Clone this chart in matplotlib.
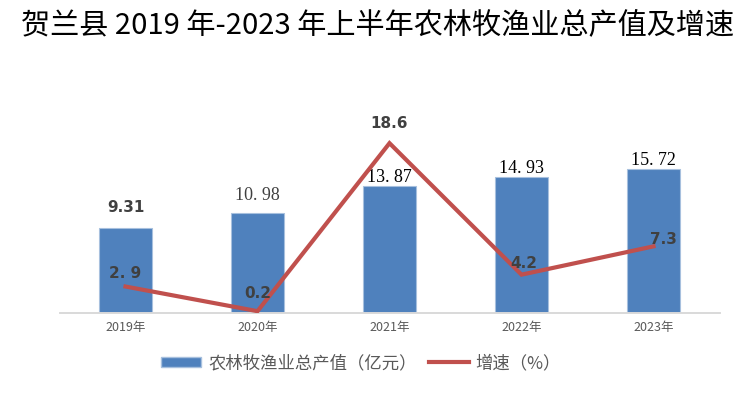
import matplotlib
matplotlib.use('Agg')
import matplotlib.pyplot as plt
from matplotlib.patches import Patch
from matplotlib.lines import Line2D

plt.rcParams['font.family'] = ['Noto Sans CJK SC', 'DejaVu Sans']

# 数据
years = ['2019年', '2020年', '2021年', '2022年', '2023年']
output = [9.31, 10.98, 13.87, 14.93, 15.72]
growth = [2.9, 0.2, 18.6, 4.2, 7.3]
output_labels = ['9.31', '10. 98', '13. 87', '14. 93', '15. 72']
growth_labels = ['2. 9', '0.2', '18.6', '4.2', '7.3']

bar_color = '#4F81BD'
line_color = '#C0504D'

fig = plt.figure(figsize=(7.55, 3.93), dpi=100)
ax = fig.add_axes([59.5 / 755, 80 / 393, 660 / 755, 182.6 / 393])
ax2 = ax.twinx()

x = list(range(len(years)))
ax.bar(x, output, width=0.4, color=bar_color, edgecolor='#A7C0DE', linewidth=0.8, zorder=2)
ax2.plot(x, growth, color=line_color, linewidth=3, zorder=3, solid_joinstyle='miter')

ax.set_xlim(-0.5, len(years) - 0.5)
ax.set_ylim(0, 20)
ax2.set_ylim(0, 20)

# 柱形标签
label_fonts = ['DejaVu Sans', 'Liberation Serif', 'Liberation Serif', 'Liberation Serif', 'Liberation Serif']
label_weights = ['bold', 'normal', 'normal', 'normal', 'normal']
label_colors = ['#404040', '#404040', 'black', 'black', 'black']
label_sizes = [11, 13, 13, 13, 13]
label_gap = [13, 9, 0, 0, 0]
for i, v in enumerate(output):
    ax.annotate(output_labels[i], (x[i], v), xytext=(0, label_gap[i]), textcoords='offset pixels',
                ha='center', va='bottom', fontsize=label_sizes[i], family=label_fonts[i],
                fontweight=label_weights[i], color=label_colors[i], annotation_clip=False)

# 折线标签
g_off = [(0, 6), (0, 10), (0, 12), (2, 4), (10, -1)]
for i, v in enumerate(growth):
    ax2.annotate(growth_labels[i], (x[i], v), xytext=g_off[i], textcoords='offset pixels',
                 ha='center', va='bottom', fontsize=11, family='DejaVu Sans',
                 fontweight='bold', color='#404040', annotation_clip=False)

ax.set_xticks(x)
ax.set_xticklabels(years, fontsize=9, color='#595959')
ax.tick_params(axis='x', length=0, pad=6)
ax.set_yticks([])
ax2.set_yticks([])
for a in (ax, ax2):
    for s in ['top', 'right', 'left']:
        a.spines[s].set_visible(False)
    a.spines['bottom'].set_color('#D9D9D9')
    a.spines['bottom'].set_linewidth(1.2)
    a.patch.set_visible(False)

# 图例
handles = [Patch(facecolor=bar_color, edgecolor='#A7C0DE', label='农林牧渔业总产值（亿元）'),
           Line2D([0], [0], color=line_color, linewidth=3, label='增速（%）')]
fig.legend(handles=handles, loc='center', bbox_to_anchor=(361 / 755, 1 - 363 / 393), ncol=2,
           frameon=False, fontsize=12.5, labelcolor='#595959', handlelength=2.3,
           handleheight=0.5, columnspacing=0.7, handletextpad=0.4)

# 标题
fig.text(0.5, 1 - 26 / 393, '贺兰县 2019 年-2023 年上半年农林牧渔业总产值及增速',
         ha='center', va='center', fontsize=21, fontweight='medium', color='black')

fig.savefig('out.png', dpi=100, facecolor='white')
